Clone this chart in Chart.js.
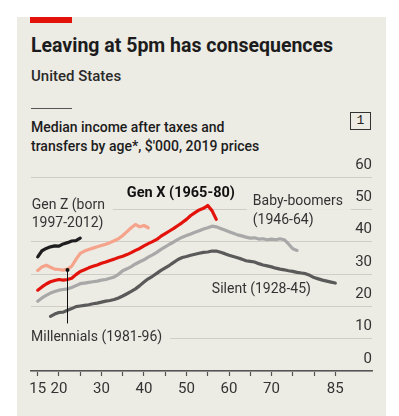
<!DOCTYPE html>
<html lang="en">
<head>
  <meta charset="UTF-8" />
  <title>Leaving at 5pm has consequences</title>
  <style>
    html, body {
      margin: 0;
      padding: 0;
      background: #fff;
    }

    body {
      position: relative;
      width: 399px;
      height: 416px;
      overflow: hidden;
      font-family: Roboto, 'Noto Sans', sans-serif;
      color: #1c1c1c;
    }

    .card {
      position: absolute;
      left: 17px;
      top: 17px;
      width: 369px;
      height: 399px;
      background: #ecebe4;
    }

    .red-bar {
      position: absolute;
      left: 30px;
      top: 17px;
      width: 42px;
      height: 6px;
      background: #e3120b;
    }

    .title {
      position: absolute;
      left: 31px;
      top: 34px;
      font-size: 19.5px;
      font-weight: 700;
      line-height: 24px;
      white-space: nowrap;
    }

    .country {
      position: absolute;
      left: 31px;
      top: 66.5px;
      font-size: 15px;
      font-weight: 500;
      line-height: 18px;
      color: #2a2a2a;
    }

    .rule {
      position: absolute;
      left: 31px;
      top: 108px;
      width: 41px;
      height: 1px;
      background: #555;
    }

    .subtitle {
      position: absolute;
      left: 31px;
      top: 117.5px;
      font-size: 14px;
      font-weight: 500;
      line-height: 19.5px;
      color: #1c1c1c;
    }

    .chart-num {
      position: absolute;
      left: 350px;
      top: 112px;
      width: 19px;
      height: 16px;
      border: 1.5px solid #333;
      font-family: 'Liberation Mono', 'DejaVu Sans Mono', monospace;
      font-size: 13px;
      line-height: 16px;
      text-align: center;
      color: #222;
    }

    #chart {
      position: absolute;
      left: 0;
      top: 0;
    }
  </style>
</head>
<body>
  <div class="card"></div>
  <div class="red-bar"></div>
  <div class="title">Leaving at 5pm has consequences</div>
  <div class="country">United States</div>
  <div class="rule"></div>
  <div class="subtitle">Median income after taxes and<br>transfers by age*, $'000, 2019 prices</div>
  <div class="chart-num">1</div>

  <canvas id="chart" width="399" height="416"></canvas>

  <script src="https://cdn.jsdelivr.net/npm/chart.js"></script>
  <script>
    // ages on the x axis, $'000 on the y axis
    const xTicks = [15, 20, 25, 30, 35, 40, 45, 50, 55, 60, 65, 70, 75, 80, 85];
    const xTickLabels = [15, 20, 30, 40, 50, 60, 70, 85];
    const yTicks = [0, 10, 20, 30, 40, 50, 60];

    // first age of each series, then one value per year of age
    const genZStart = 15;
    const genZ = [35.3, 37.2, 37.9, 38.4, 38.7, 38.6, 39.3, 39.7, 40.2, 40.3, 41.1];

    const millennialsStart = 15;
    const millennials = [31.1, 32.2, 32.7, 32.1, 31.5, 31.4, 31.2, 31.5, 32.4, 34.5,
      36.4, 37.1, 37.6, 38.0, 38.4, 38.8, 39.2, 39.7, 40.3, 40.9,
      41.9, 43.1, 44.3, 45.3, 44.6, 45.0, 44.3];

    const genXStart = 15;
    const genX = [25.0, 26.0, 26.9, 27.6, 28.0, 28.3, 28.1, 28.3, 28.7, 29.8,
      30.8, 31.3, 31.9, 32.4, 32.8, 33.3, 33.7, 34.2, 34.6, 35.1,
      35.5, 36.0, 36.6, 37.3, 37.9, 38.7, 39.4, 40.0, 40.7, 41.7,
      42.5, 43.3, 44.1, 45.0, 45.9, 46.9, 48.1, 49.0, 49.8, 50.3,
      51.2, 49.6, 46.9];

    const boomersStart = 15;
    const boomers = [21.6, 22.6, 23.4, 24.1, 24.6, 25.0, 25.2, 25.4, 25.8, 26.4,
      27.0, 27.2, 27.4, 27.6, 27.8, 28.1, 28.3, 28.7, 29.1, 29.9,
      31.0, 31.6, 32.3, 33.1, 33.8, 34.4, 35.2, 35.9, 36.7, 37.6,
      38.4, 39.2, 39.9, 40.7, 41.4, 41.9, 42.4, 42.9, 43.4, 43.9,
      44.3, 44.8, 44.6, 44.1, 43.6, 43.1, 42.6, 42.1, 41.8, 41.4,
      41.1, 41.2, 40.8, 40.9, 40.6, 40.8, 40.6, 40.9, 40.6, 39.3,
      37.8, 37.3];

    const silentStart = 18;
    const silent = [16.9, 17.6, 18.1, 18.2, 18.8, 19.3, 19.9, 20.1, 20.3, 20.5,
      20.8, 21.0, 21.3, 21.6, 21.8, 22.1, 22.6, 23.2, 23.9, 24.6,
      25.4, 26.4, 27.5, 28.5, 29.3, 30.2, 31.1, 31.9, 32.7, 33.6,
      34.5, 35.1, 35.4, 35.8, 36.1, 36.4, 36.7, 36.8, 37.1, 37.1,
      36.7, 36.3, 35.8, 35.4, 35.0, 34.6, 34.1, 33.9, 33.7, 33.2,
      32.8, 32.5, 32.2, 31.8, 31.5, 31.3, 31.0, 30.8, 30.5, 30.3,
      30.1, 29.6, 28.9, 28.5, 28.1, 27.8, 27.5, 27.2];

    // series labels, anchored in data units (age, $'000)
    const seriesLabels = [
      { text: 'Gen Z (born', age: 13.59, value: 51.3 },
      { text: '1997-2012)', age: 13.59, value: 45.6 },
      { text: 'Gen X (1965-80)', age: 35.96, value: 55.0, bold: true },
      { text: 'Baby-boomers', age: 65.6, value: 52.3 },
      { text: '(1946-64)', age: 65.6, value: 46.6 },
      { text: 'Silent (1928-45)', age: 55.97, value: 25.2 },
      { text: 'Millennials (1981-96)', age: 13.42, value: 10.3 }
    ];
    const pointerAge = 21.8;
    const pointerTop = 31.25;
    const pointerBottom = 14.7;

    const cardColor = '#ecebe4';

    function series(label, start, values, color) {
      return {
        label: label,
        data: values.map((v, i) => ({ x: start + i, y: v })),
        borderColor: color,
        borderWidth: 3.2,
        borderCapStyle: 'round',
        borderJoinStyle: 'round',
        pointRadius: 0,
        tension: 0,
        fill: false
      };
    }

    const labelPlugin = {
      id: 'seriesLabels',
      beforeDatasetsDraw(chart) {
        const { ctx, scales: { x, y } } = chart;
        ctx.save();
        ctx.textBaseline = 'middle';
        ctx.textAlign = 'left';
        seriesLabels.forEach(l => {
          ctx.font = (l.bold ? '700 14.5px' : '400 14px') + ' Roboto, sans-serif';
          const px = x.getPixelForValue(l.age);
          const py = y.getPixelForValue(l.value);
          const w = ctx.measureText(l.text).width;
          ctx.fillStyle = cardColor;
          ctx.fillRect(px - 6, py - 8, w + 14, 16);
          ctx.fillStyle = l.bold ? '#111' : '#333';
          ctx.fillText(l.text, px, py);
        });
        ctx.restore();
      },
      afterDatasetsDraw(chart) {
        const { ctx, scales: { x, y } } = chart;
        const px = Math.round(x.getPixelForValue(pointerAge)) + 0.5;
        const top = y.getPixelForValue(pointerTop);
        ctx.save();
        ctx.strokeStyle = '#111';
        ctx.lineWidth = 1;
        ctx.beginPath();
        ctx.moveTo(px, top);
        ctx.lineTo(px, y.getPixelForValue(pointerBottom));
        ctx.stroke();
        ctx.fillStyle = '#111';
        ctx.beginPath();
        ctx.arc(px, top, 2, 0, Math.PI * 2);
        ctx.fill();
        ctx.restore();
      }
    };

    new Chart(document.getElementById('chart'), {
      type: 'line',
      data: {
        datasets: [
          series('Silent (1928-45)', silentStart, silent, '#5a5a5a'),
          series('Baby-boomers (1946-64)', boomersStart, boomers, '#a8a8a8'),
          series('Gen X (1965-80)', genXStart, genX, '#e3120b'),
          series('Millennials (1981-96)', millennialsStart, millennials, '#f5a48b'),
          series('Gen Z (born 1997-2012)', genZStart, genZ, '#1e1e1e')
        ]
      },
      options: {
        responsive: false,
        animation: false,
        layout: { padding: { left: 31, right: 27, top: 177, bottom: 14 } },
        plugins: {
          legend: { display: false },
          tooltip: { enabled: false }
        },
        scales: {
          x: {
            type: 'linear',
            min: 13.42,
            max: 93.64,
            afterBuildTicks: s => { s.ticks = xTicks.map(v => ({ value: v })); },
            ticks: {
              autoSkip: false,
              maxRotation: 0,
              padding: 4,
              color: '#333',
              font: { family: 'Roboto', size: 15 },
              callback: v => xTickLabels.includes(v) ? String(v) : ''
            },
            grid: {
              drawOnChartArea: false,
              drawTicks: true,
              tickLength: 5,
              tickColor: '#555',
              tickWidth: 1.2
            },
            border: { display: true, color: '#555', width: 1.5 }
          },
          y: {
            position: 'right',
            min: 0,
            max: 60,
            afterBuildTicks: s => { s.ticks = yTicks.map(v => ({ value: v })); },
            ticks: {
              mirror: true,
              padding: 0,
              labelOffset: -12,
              color: '#333',
              font: { family: 'Roboto', size: 15 }
            },
            grid: { color: '#cfcdc5', lineWidth: 1, drawTicks: false },
            border: { display: false }
          }
        }
      },
      plugins: [labelPlugin]
    });
  </script>
</body>
</html>
